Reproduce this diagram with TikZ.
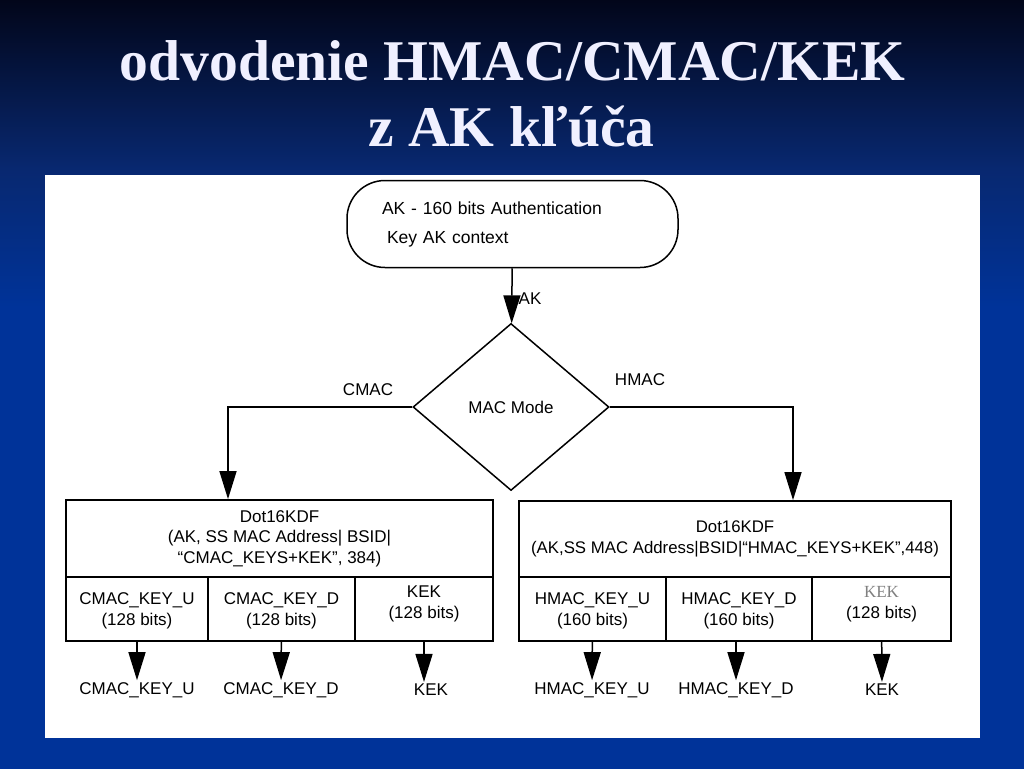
\documentclass[tikz,border=0pt]{standalone}
\usepackage{fontspec}
\setmainfont{Liberation Sans}
\newfontfamily\titlefont{Liberation Serif}
\usetikzlibrary{shapes.geometric,arrows.meta}

\definecolor{bgtop}{RGB}{2,6,26}
\definecolor{bgmid}{RGB}{8,40,112}
\definecolor{bgbot}{RGB}{0,51,153}
\definecolor{titlecol}{RGB}{240,240,255}
\pgfdeclareverticalshading{slidebg}{100bp}{color(0bp)=(bgbot); color(25bp)=(bgbot); color(55bp)=(bgbot); color(64bp)=(bgmid); color(75bp)=(bgtop); color(100bp)=(bgtop)}

\tikzset{
  box/.style={draw, line width=1.8pt, inner sep=0pt, align=center, font=\fontsize{17}{21}\selectfont},
  cell/.style={box, minimum height=64pt},
  outlbl/.style={inner sep=2pt, font=\fontsize{17}{21}\selectfont},
  lbl/.style={inner sep=0pt, font=\fontsize{17}{21}\selectfont},
  titletext/.style={text=titlecol, font=\titlefont\bfseries\fontsize{57.6}{62}\selectfont, anchor=base},
  arr/.style={line width=1.5pt, -{Triangle[width=17pt,length=28pt]}}
}

\begin{document}
\begin{tikzpicture}[x=1pt, y=-1pt]
        \useasboundingbox (0,0) rectangle (1024,768);
        % slide background
        \shade[shading=slidebg] (0,0) rectangle (1024,768);
        \fill[white] (45,175) rectangle (980,738);
        \node[titletext] (title1) at (512.5,80) {odvodenie HMAC/CMAC/KEK};
        \node[titletext] (title2) at (511.5,146) {z AK kľúča};

        % key and mode
        \node[draw, line width=1.5pt, rounded corners=38pt, minimum width=331pt, minimum height=87pt,
              text width=261pt, inner xsep=35pt, align=left, font=\fontsize{17.5}{29}\selectfont] (ak) at (512.5,224)
              {AK - 160 bits Authentication\\ \hspace*{5pt}Key AK context};
        \node[draw, diamond, line width=1.5pt, inner sep=0pt, minimum width=196pt, minimum height=167pt, aspect=1.17,
              font=\fontsize{17}{21}\selectfont] (mode) at (511,407) {MAC Mode};
        \draw[arr] (ak) -- node[lbl, right=6pt, yshift=-3pt] {AK} (mode);
        \coordinate (cmacx) at (228,0);
        \coordinate (hmacx) at (793,0);
        \node[lbl] (cmac) at (368,390) {CMAC};
        \node[lbl] (hmac) at (640,380) {HMAC};

        % CMAC side
        \node[box, minimum width=427pt, minimum height=77pt, font=\fontsize{17}{20.5}\selectfont] (kdfc) at (279.5,538.5)
              {Dot16KDF\\(AK, SS MAC Address| BSID|\\“CMAC\_KEYS+KEK”, 384)};
        \node[cell, minimum width=142pt] (cu) at (137,609) {\\[-6pt]CMAC\_KEY\_U\\(128 bits)};
        \node[cell, minimum width=147pt] (cd) at (281.5,609) {\\[-6pt]CMAC\_KEY\_D\\(128 bits)};
        \node[cell, minimum width=138pt] (ck) at (424,609) {KEK\\(128 bits)\\[-8pt]};
        \node[outlbl] (ocu) at (137,690) {CMAC\_KEY\_U};
        \node[outlbl] (ocd) at (281,690) {CMAC\_KEY\_D};
        \node[outlbl] (ock) at (431,690) {KEK};
        \draw[arr] (mode.west) -| (kdfc.north -| cmacx);
        \draw[arr] (cu) -- (ocu);
        \draw[arr] (cd) -- (ocd);
        \draw[arr] (ck.south) -- (ck.south |- ock.north);

        % HMAC side
        \node[box, minimum width=432pt, minimum height=76pt, font=\fontsize{16.8}{21}\selectfont] (kdfh) at (735,539)
              {Dot16KDF\\(AK,SS MAC Address|BSID|“HMAC\_KEYS+KEK”,448)};
        \node[cell, minimum width=147pt] (hu) at (592.5,609) {\\[-6pt]HMAC\_KEY\_U\\(160 bits)};
        \node[cell, minimum width=146pt] (hd) at (739,609) {\\[-6pt]HMAC\_KEY\_D\\(160 bits)};
        \node[cell, minimum width=139pt] (hk) at (881.5,609) {{\color{gray}\titlefont KEK}\\(128 bits)\\[-8pt]};
        \node[outlbl] (ohu) at (592,690) {HMAC\_KEY\_U};
        \node[outlbl] (ohd) at (736,690) {HMAC\_KEY\_D};
        \node[outlbl] (ohk) at (882,690) {KEK};
        \draw[arr] (mode.east) -| (kdfh.north -| hmacx);
        \draw[arr] (hu) -- (ohu);
        \draw[arr] (ohd.north |- hd.south) -- (ohd);
        \draw[arr] (hk) -- (ohk);
    \end{tikzpicture}
\end{document}
